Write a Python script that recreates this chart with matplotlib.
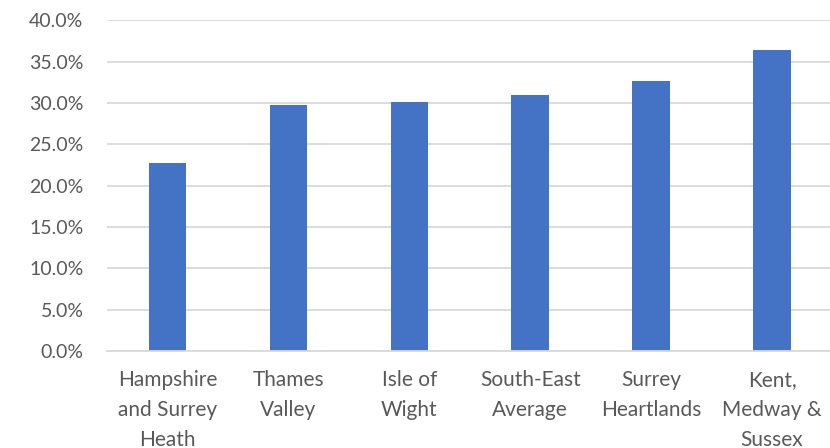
import matplotlib.pyplot as plt
from matplotlib.ticker import PercentFormatter

categories = ["Hampshire\nand Surrey\nHeath", "Thames\nValley", "Isle of\nWight",
              "South-East\nAverage", "Surrey\nHeartlands", "Kent,\nMedway &\nSussex"]
values = [22.7, 29.7, 30.1, 31.0, 32.6, 36.4]
yticks = [0, 5, 10, 15, 20, 25, 30, 35, 40]

plt.rcParams["font.family"] = ["Lato", "DejaVu Sans"]
text_col = "#595959"
grid_col = "#d9d9d9"

fig = plt.figure(figsize=(8.3, 4.48), dpi=100)
ax = fig.add_axes([0.129, 0.2165, 0.874, 0.7385])

x = range(len(categories))
ax.bar(x, values, width=0.31, color="#4472c4", zorder=3)

ax.set_xlim(-0.5, len(categories) - 0.5)
ax.set_ylim(0, 40)
ax.set_yticks(yticks)
ax.yaxis.set_major_formatter(PercentFormatter(decimals=1))
ax.set_xticks(list(x))
ax.set_xticklabels(categories, linespacing=1.6, fontsize=15)

ax.grid(axis="y", color=grid_col, linewidth=1.3, zorder=0)
for s in ["top", "right", "left"]:
    ax.spines[s].set_visible(False)
ax.spines["bottom"].set_color(grid_col)
ax.spines["bottom"].set_linewidth(1.3)
ax.spines["bottom"].set_zorder(4)

ax.tick_params(axis="both", length=0, colors=text_col)
ax.tick_params(axis="y", pad=17, labelsize=14)
ax.tick_params(axis="x", pad=14)

fig.savefig("out.png", dpi=100)
